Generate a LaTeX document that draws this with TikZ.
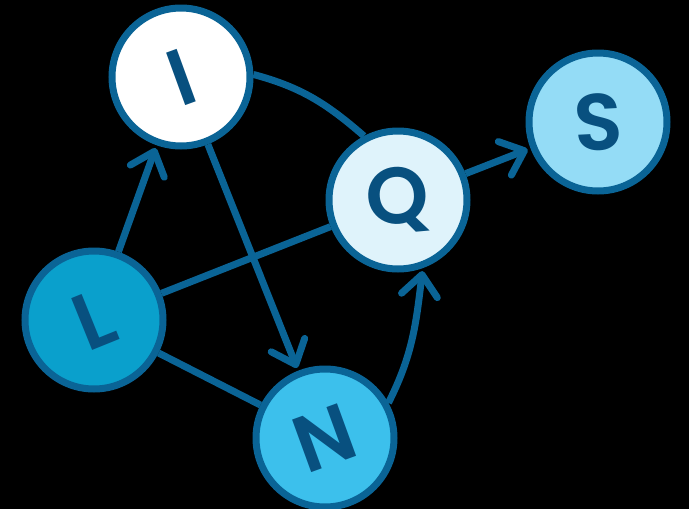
\documentclass[tikz,border=0pt]{standalone}
\usepackage{fontspec}
\usetikzlibrary{arrows.meta,backgrounds}
\newfontfamily\lab{Poppins SemiBold}
\definecolor{edgec}{HTML}{0A6496}
\definecolor{letc}{HTML}{08507F}
\definecolor{fillQ}{HTML}{DFF3FB}
\definecolor{fillL}{HTML}{0AA0CC}
\definecolor{fillN}{HTML}{3CC0EC}
\definecolor{fillS}{HTML}{94DCF6}
\begin{document}
\begin{tikzpicture}[x=1pt,y=1pt,
  vtx/.style={circle,draw=edgec,line width=7pt,minimum size=138pt,inner sep=0pt,
    font=\lab\fontsize{80}{80}\selectfont,text=letc},
  link/.style={draw=edgec,line width=7pt},
  arr/.style={link,-{Straight Barb[length=21pt,width=36pt,round]},shorten >=3pt}]
\useasboundingbox (0,0) rectangle (689,-509);
\node[vtx,fill=white] (I) at (181,-77) {\rotatebox{20}{I}};
\node[vtx,fill=fillQ] (Q) at (398,-200) {\rotatebox{5}{Q}};
\node[vtx,fill=fillL] (L) at (94,-320) {\rotatebox{22}{L}};
\node[vtx,fill=fillN] (N) at (325,-438) {\rotatebox{20}{N}};
\node[vtx,fill=fillS] (S) at (598,-122) {\rotatebox{3}{S}};
\begin{pgfonlayer}{background}
\fill[black] (0,0) rectangle (689,-509);
\draw[arr] (L) -- (I);
\draw[arr] (I) -- (N);
\draw[link] (L) -- (Q);
\draw[link] (L) -- (N);
\draw[link] (I.2) to[out=-15,in=139] (Q.118);
\draw[arr] (N.29) to[out=63,in=-97] (Q.-70);
\draw[arr] (Q) -- (S);
\end{pgfonlayer}
\end{tikzpicture}
\end{document}
